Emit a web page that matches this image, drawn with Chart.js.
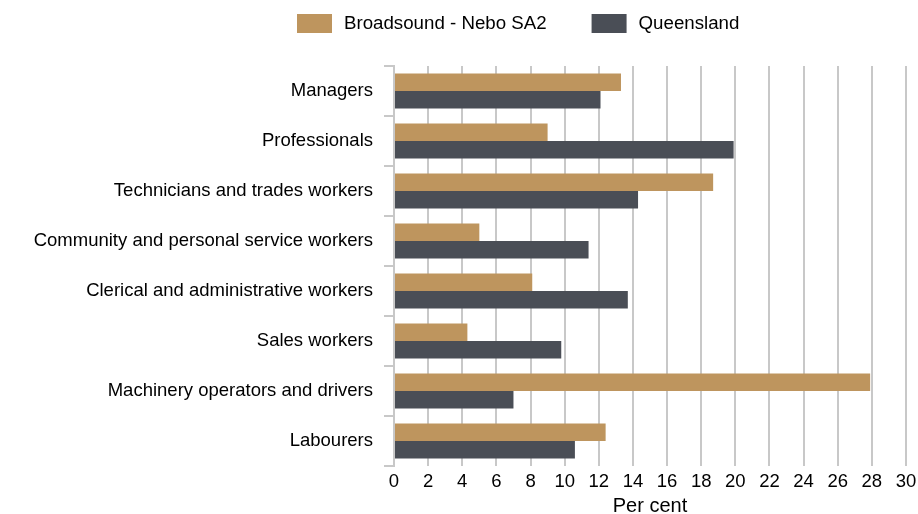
<!DOCTYPE html>
<html>
<head>
<meta charset="utf-8">
<script src="https://cdn.jsdelivr.net/npm/chart.js@4.4.1/dist/chart.umd.min.js"></script>
<style>
    html, body { margin: 0; padding: 0; background: #fff; }
    #wrap { width: 918px; height: 514px; position: relative; }
</style>
</head>
<body>
<div id="wrap"><canvas id="graficoOcupacoes"></canvas></div>
<script>
const categorias = [
    'Managers',
    'Professionals',
    'Technicians and trades workers',
    'Community and personal service workers',
    'Clerical and administrative workers',
    'Sales workers',
    'Machinery operators and drivers',
    'Labourers'
];
const serieNomes = ['Broadsound - Nebo SA2', 'Queensland'];
const broadsound = [13.3, 9.0, 18.7, 5.0, 8.1, 4.3, 27.9, 12.4];
const queensland = [12.1, 19.9, 14.3, 11.4, 13.7, 9.8, 7.0, 10.6];
const cores = ['#be955e', '#4a4e56'];

const fonte = 'Liberation Sans, Arial, sans-serif';
const corGrade = '#c8c8c8';

// legenda desenhada a mao (o padding do Chart.js empurra tudo pra baixo)
const legendaTopo = {
    id: 'legendaTopo',
    afterDraw(chart) {
        const ctx = chart.ctx;
        ctx.save();
        ctx.font = '18.7px ' + fonte;
        ctx.textBaseline = 'middle';
        let x = 297;
        chart.data.datasets.forEach(ds => {
            ctx.fillStyle = ds.backgroundColor;
            ctx.fillRect(x, 14, 35, 19);
            ctx.fillStyle = '#000';
            ctx.fillText(ds.label, x + 47, 24);
            x += 47 + ctx.measureText(ds.label).width + 45;
        });
        ctx.restore();
    }
};

const ctx = document.getElementById('graficoOcupacoes').getContext('2d');
const grafico = new Chart(ctx, {
    type: 'bar',
    data: {
        labels: categorias,
        datasets: [
            { label: serieNomes[0], data: broadsound, backgroundColor: cores[0] },
            { label: serieNomes[1], data: queensland, backgroundColor: cores[1] }
        ]
    },
    options: {
        indexAxis: 'y',
        responsive: true,
        maintainAspectRatio: false,
        animation: false,
        categoryPercentage: 0.7,
        barPercentage: 1.0,
        layout: {
            padding: { top: 66, right: 0, bottom: 0, left: 0 }
        },
        plugins: {
            legend: { display: false },
            tooltip: { enabled: false }
        },
        scales: {
            x: {
                min: 0,
                max: 30,
                afterFit(scale) {
                    scale.height = 48;
                    scale.paddingRight = 12;
                },
                ticks: {
                    stepSize: 2,
                    color: '#000',
                    padding: 5,
                    font: { family: fonte, size: 18.5 }
                },
                grid: {
                    color: corGrade,
                    lineWidth: 2,
                    drawTicks: false
                },
                border: { display: false },
                title: {
                    display: true,
                    text: 'Per cent',
                    color: '#000',
                    padding: { top: 0, bottom: 0 },
                    font: { family: fonte, size: 20, lineHeight: 0.8 }
                }
            },
            y: {
                afterFit(scale) {
                    scale.width = 394;
                },
                ticks: {
                    color: '#000',
                    padding: 11,
                    font: { family: fonte, size: 18.5 }
                },
                grid: {
                    offset: true,
                    drawOnChartArea: false,
                    color: corGrade,
                    lineWidth: 2,
                    tickLength: 10
                },
                border: { display: true, color: corGrade, width: 2 }
            }
        }
    },
    plugins: [legendaTopo]
});
</script>
</body>
</html>
